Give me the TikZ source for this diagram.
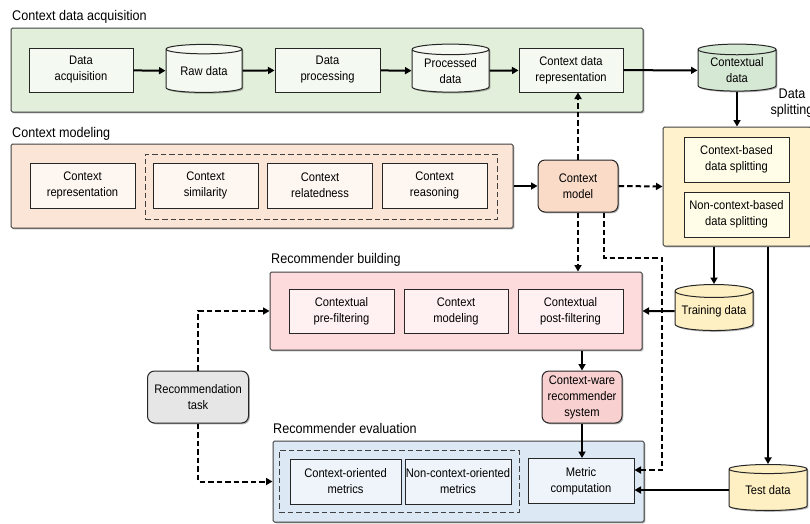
\documentclass[tikz,border=0pt]{standalone}
\usepackage{fontspec}
\setmainfont{Liberation Sans}[FakeStretch=0.9]
\usetikzlibrary{shapes.geometric,arrows.meta,shadows,calc}
\definecolor{acqfill}{HTML}{E2EFDA}
\definecolor{acqin}{HTML}{F4F9F1}
\definecolor{acqdb}{HTML}{D5E8D4}
\definecolor{modfill}{HTML}{FBE5D6}
\definecolor{modin}{HTML}{FDF6F1}
\definecolor{cmfill}{HTML}{FADBC8}
\definecolor{splfill}{HTML}{FFF2CC}
\definecolor{splin}{HTML}{FFFDE8}
\definecolor{bldfill}{HTML}{FDDADB}
\definecolor{bldin}{HTML}{FFF1F2}
\definecolor{cwfill}{HTML}{F8D0D0}
\definecolor{dbfill}{HTML}{FFF0C4}
\definecolor{rtfill}{HTML}{E6E6E6}
\definecolor{evfill}{HTML}{DCE8F4}
\definecolor{evin}{HTML}{EEF4FA}
\begin{document}
\begin{tikzpicture}[x=1pt,y=-1pt,
  every node/.style={font=\fontsize{12.4}{16}\selectfont, align=center, inner sep=0pt},
  lbl/.style={font=\fontsize{14}{16}\selectfont, anchor=base west},
  shd/.style={drop shadow={shadow xshift=1.3pt,shadow yshift=-1.3pt,opacity=0.3,fill=black}},
  grp/.style={draw=black!75, line width=1pt, rounded corners=1.5pt, shd},
  ibox/.style={draw=black!85, line width=1pt},
  rbox/.style={draw=black!85, line width=1pt, rounded corners=7pt, shd},
  db/.style={cylinder, shape border rotate=90, aspect=0.2, draw=black!85, line width=1pt, shd},
  dgrp/.style={draw=black!75, line width=1pt, dash pattern=on 5.5pt off 3pt},
  arr/.style={line width=2pt, -{Triangle[length=6.5pt,width=7pt]}},
  darr/.style={arr, dash pattern=on 5.5pt off 3pt},
]
\useasboundingbox (0,0) rectangle (810,523);

% ---------- group boxes ----------
\node[grp, fill=acqfill, minimum width=632pt, minimum height=84pt] (acq) at (327,70) {};
\node[grp, fill=modfill, minimum width=502pt, minimum height=84pt] (mod) at (262,186) {};
\node[grp, fill=splfill, minimum width=148pt, minimum height=119pt] (split) at (737,186.5) {};
\node[grp, fill=bldfill, minimum width=372pt, minimum height=78pt] (build) at (456,311) {};
\node[grp, fill=evfill, minimum width=371pt, minimum height=81pt] (eval) at (458.5,481.5) {};

% ---------- labels ----------
\node[lbl] (lacq) at (12,20.5) {Context data acquisition};
\node[lbl] (lmod) at (12,137.5) {Context modeling};
\node[font=\fontsize{14}{16.5}\selectfont] (lspl) at (792,103) {Data\\splitting};
\node[lbl] (lbld) at (271,263) {Recommender building};
\node[lbl] (lev) at (273,433.5) {Recommender evaluation};

% ---------- acquisition ----------
\node[ibox, fill=acqin, minimum width=104pt, minimum height=44pt] (dacq) at (81,70) {Data\\acquisition};
\node[db, fill=acqin, minimum width=76pt, minimum height=48pt] (raw) at (204,71) {Raw data};
\node[ibox, fill=acqin, minimum width=105pt, minimum height=44pt] (dproc) at (327.5,70) {Data\\processing};
\node[db, fill=acqin, minimum width=77pt, minimum height=48pt] (proc) at (450.5,71) {Processed\\data};
\node[ibox, fill=acqin, minimum width=104pt, minimum height=44pt] (cdr) at (571,70) {Context data\\representation};
\node[db, fill=acqdb, minimum width=78pt, minimum height=47pt] (ctxd) at (737,70.5) {Contextual\\data};

% ---------- modeling ----------
\node[dgrp, minimum width=352pt, minimum height=65pt] (mdash) at (321,186.5) {};
\node[ibox, fill=modin, minimum width=105pt, minimum height=45pt] (crep) at (82.5,185.5) {Context\\representation};
\node[ibox, fill=modin, minimum width=105pt, minimum height=45pt] (csim) at (205.5,185.5) {Context\\similarity};
\node[ibox, fill=modin, minimum width=105pt, minimum height=45pt] (crel) at (320,185.5) {Context\\relatedness};
\node[ibox, fill=modin, minimum width=105pt, minimum height=45pt] (creas) at (434.5,185.5) {Context\\reasoning};
\node[rbox, fill=cmfill, minimum width=80pt, minimum height=52pt] (cmodel) at (578,186) {Context\\model};

% ---------- splitting ----------
\node[ibox, fill=splin, minimum width=105pt, minimum height=45pt] (cbs) at (736.5,159.5) {Context-based\\data splitting};
\node[ibox, fill=splin, minimum width=105pt, minimum height=45pt] (ncbs) at (736.5,214.5) {Non-context-based\\data splitting};
\node[db, fill=dbfill, minimum width=78pt, minimum height=46pt] (train) at (714,311) {Training data};
\node[db, fill=dbfill, minimum width=78pt, minimum height=46pt] (test) at (768,490) {Test data};

% ---------- building ----------
\node[ibox, fill=bldin, minimum width=105pt, minimum height=44pt] (pre) at (341.5,311) {Contextual\\pre-filtering};
\node[ibox, fill=bldin, minimum width=104pt, minimum height=44pt] (cmod) at (456,311) {Context\\modeling};
\node[ibox, fill=bldin, minimum width=105pt, minimum height=44pt] (post) at (570.5,311) {Contextual\\post-filtering};

\node[rbox, fill=rtfill, minimum width=101pt, minimum height=52pt] (rtask) at (198,397) {Recommendation\\task};
\node[rbox, fill=cwfill, minimum width=80pt, minimum height=52pt] (cware) at (582,397) {Context-ware\\recommender\\system};

% ---------- evaluation ----------
\node[dgrp, minimum width=240pt, minimum height=62pt] (edash) at (399,481) {};
\node[ibox, fill=evin, minimum width=111pt, minimum height=45pt] (coriented) at (345.5,481.5) {Context-oriented\\metrics};
\node[ibox, fill=evin, minimum width=106pt, minimum height=45pt] (ncoriented) at (458,481.5) {Non-context-oriented\\metrics};
\node[ibox, fill=evin, minimum width=106pt, minimum height=45pt] (metric) at (581,481) {Metric\\computation};

\coordinate (turn1) at (662,258);

% ---------- connectors ----------
\draw[arr] (dacq) -- (raw);
\draw[arr] (raw) -- (dproc);
\draw[arr] (dproc) -- (proc);
\draw[arr] (proc) -- (cdr);
\draw[arr] (cdr) -- (ctxd);
\draw[arr] (ctxd.south) -- (split.north);
\draw[arr] (mod.east) -- (cmodel.west);
\draw[darr] (cmodel.north) -- (cmodel.north |- cdr.south);
\draw[darr] (cmodel.east) -- (split.west);
\draw[darr] (cmodel.south) -- (cmodel.south |- build.north);
\draw[darr] ([xshift=26pt]cmodel.south) |- (turn1) |- ([yshift=11pt]metric.east);
\draw[arr] (train.north |- split.south) -- (train.north);
\draw[arr] (test.north |- split.south) -- (test.north);
\draw[arr] (train.west) -- (build.east);
\draw[arr] (cware.north |- build.south) -- (cware.north);
\draw[arr] (cware.south) -- (cware.south |- metric.north);
\draw[arr] (test.west) -- (test.west -| metric.east);
\draw[darr] (rtask.north) |- (build.west);
\draw[darr] (rtask.south) |- (eval.west);
\end{tikzpicture}
\end{document}
